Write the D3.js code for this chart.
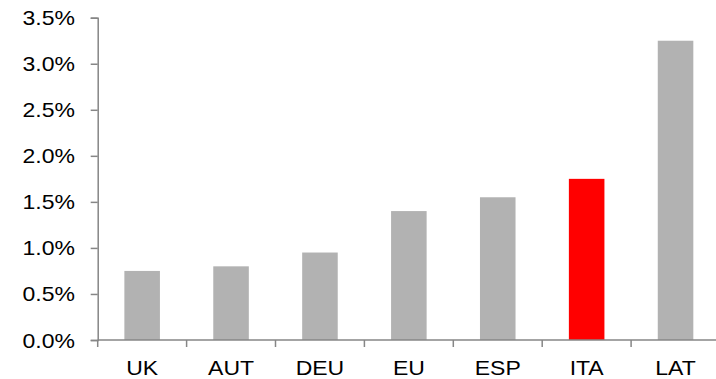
<!DOCTYPE html>
<html>
<head>
<meta charset="utf-8">
<script src="https://cdn.jsdelivr.net/npm/d3@7"></script>
<style>
  html, body { margin: 0; padding: 0; background: #fff; }
  svg { display: block; }
  .tick text { font-family: "Liberation Sans", Arial, sans-serif; font-size: 20px; fill: #000; }
</style>
</head>
<body>
<svg id="chart" width="716" height="379"></svg>
<script>
// Categories and their values (percent)
const categories = ["UK", "AUT", "DEU", "EU", "ESP", "ITA", "LAT"];
const values = [0.75, 0.80, 0.95, 1.40, 1.55, 1.75, 3.25];
const highlight = ["ITA"];
const yTicks = [0, 0.5, 1.0, 1.5, 2.0, 2.5, 3.0, 3.5];

const svg = d3.select("#chart");
const margin = { left: 97.7, right: -4, top: 17.7, bottom: 39 };
const W = 716, H = 379;
const stretch = 1.15; // wide lettering

const x = d3.scaleBand()
  .domain(categories)
  .range([margin.left, W - margin.right])
  .paddingInner(0.6)
  .paddingOuter(0.3);

const y = d3.scaleLinear()
  .domain([0, 3.5])
  .range([H - margin.bottom, margin.top]);

// Bars
svg.append("g")
  .selectAll("rect")
  .data(categories.map((c, i) => ({ c, v: values[i] })))
  .join("rect")
  .attr("x", d => x(d.c))
  .attr("width", x.bandwidth())
  .attr("y", d => y(d.v))
  .attr("height", d => y(0) - y(d.v))
  .attr("fill", d => highlight.includes(d.c) ? "#ff0000" : "#b2b2b2");

const axisColor = "#868686";

// Y axis
const yAxis = svg.append("g")
  .attr("transform", `translate(${margin.left},0)`)
  .call(d3.axisLeft(y).tickValues(yTicks).tickFormat(d => d.toFixed(1) + "%").tickSize(7));
yAxis.select(".domain").attr("stroke", axisColor).attr("stroke-width", 1.5);
yAxis.selectAll(".tick line").attr("stroke", axisColor).attr("stroke-width", 1.5);
yAxis.selectAll(".tick text")
  .attr("x", -22.7 / stretch)
  .attr("dy", "0.35em")
  .attr("transform", `scale(${stretch},1)`);

// X axis with ticks at band boundaries
const xg = svg.append("g")
  .attr("transform", `translate(0,${y(0)})`);
xg.append("line")
  .attr("x1", margin.left).attr("x2", W)
  .attr("stroke", axisColor).attr("stroke-width", 1.5);
const step = x.step();
const bounds = d3.range(categories.length + 1).map(i => x(categories[0]) - step * x.paddingInner() / 2 + i * step);
xg.selectAll("line.bt")
  .data(bounds)
  .join("line")
  .attr("class", "bt")
  .attr("x1", d => d).attr("x2", d => d)
  .attr("y1", 0).attr("y2", 7)
  .attr("stroke", axisColor).attr("stroke-width", 1.5);
xg.selectAll("text")
  .data(categories)
  .join("text")
  .attr("transform", d => `translate(${x(d) + x.bandwidth() / 2},34.5) scale(${stretch},1)`)
  .attr("text-anchor", "middle")
  .attr("font-family", "Liberation Sans, Arial, sans-serif")
  .attr("font-size", 20)
  .text(d => d);
</script>
</body>
</html>
